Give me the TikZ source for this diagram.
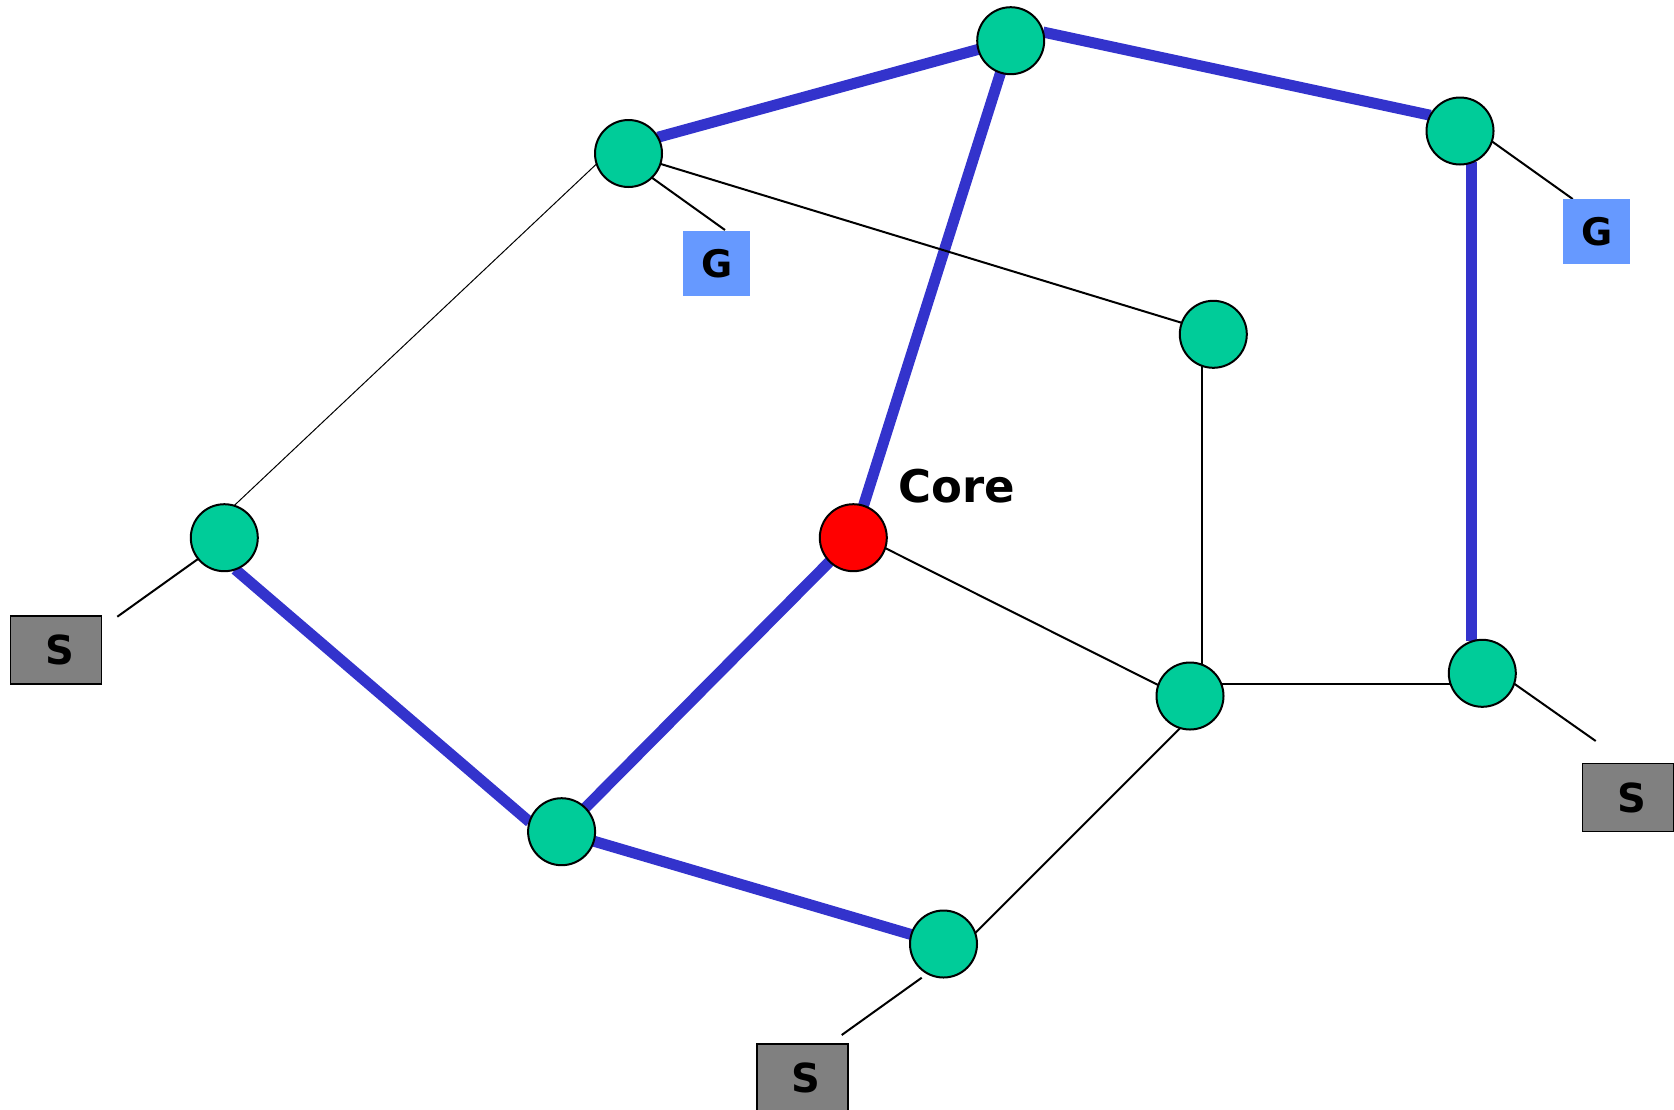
\documentclass[tikz,border=0pt]{standalone}
\usepackage{fontspec}
\setmainfont{DejaVu Sans}
\usetikzlibrary{backgrounds}
\definecolor{nodegreen}{RGB}{0,204,153}
\definecolor{linkblue}{RGB}{51,51,204}
\definecolor{gblue}{RGB}{102,153,255}
\definecolor{sgray}{RGB}{128,128,128}
\begin{document}
\begin{tikzpicture}[x=0.5pt,y=-0.5pt,
  router/.style={circle,draw=black,line width=1pt,fill=nodegreen,minimum size=33.5pt,inner sep=0pt,outer sep=0pt},
  corenode/.style={router,fill=red},
  gbox/.style={rectangle,fill=gblue,minimum width=33.3pt,minimum height=32.3pt,inner sep=0pt,outer sep=0pt,font=\fontsize{19}{19}\selectfont\bfseries},
  sbox/.style={rectangle,fill=sgray,draw=black,line width=0.75pt,minimum width=45.5pt,minimum height=34pt,inner sep=0pt,font=\fontsize{20}{20}\selectfont\bfseries},
  bluelink/.style={line width=5.5pt,draw=linkblue},
  thinlink/.style={line width=1pt,draw=black},
  hairlink/.style={line width=0.5pt,draw=black}]
\useasboundingbox (0,0) rectangle (1674,1109);
% routers
\node[router] (A) at (628.5,153.5) {};
\node[router] (T) at (1010.7,40.7) {};
\node[router] (TR) at (1460,131) {};
\node[router] (RM) at (1213.3,334.3) {};
\node[router] (L) at (224.3,537.7) {};
\node[corenode] (C) at (853.3,537.7) {};
\node[router] (MR) at (1190,696) {};
\node[router] (RL) at (1482.3,673.3) {};
\node[router] (BL) at (561.6,831.7) {};
\node[router] (B) at (943.5,944) {};
% boxes
\node[gbox] (G1) at (716.7,263.3) {G};
\node[gbox] (G2) at (1596.7,231.3) {G};
\node[sbox] (S1) at (56.2,650.2) {\hspace*{3.7pt}S};
\node[sbox] (S2) at (1628.2,797.5) {\hspace*{3.7pt}S};
\node[sbox] (S3) at (802.3,1078.2) {\hspace*{3.7pt}S};
\node[font=\fontsize{22.5}{22.5}\selectfont\bfseries] (corelabel) at (957,486) {Core};
% free ends
\coordinate (gA) at (725,230);
\coordinate (gTR) at (1572.7,199);
\coordinate (sL) at (117.3,616.7);
\coordinate (sRL) at (1595.7,741);
\coordinate (sB1) at (921.7,977.7);
\coordinate (sB2) at (841.7,1035);
\begin{scope}[on background layer]
\draw[bluelink] (A.29) -- (T.195);
\draw[bluelink] (T.15) -- (TR.152);
\draw[bluelink] (TR.290) -- (TR.290 |- RL.108);
\draw[bluelink] (T) -- (C);
\draw[bluelink] (C) -- (BL);
\draw[bluelink] (L.289) -- (BL.163);
\draw[bluelink] (BL) -- (B);
\draw[hairlink] (L.73) -- (A.198);
\draw[thinlink] (A.342) -- (RM.160);
\draw[thinlink] (RM.250) -- (RM.250 |- MR.70);
\draw[thinlink] (C.342) -- (MR.161);
\draw[thinlink] (MR.21) -- (MR.21 -| RL.199);
\draw[thinlink] (MR.253) -- (B.19);
\draw[thinlink] (A.314) -- (gA);
\draw[thinlink] (TR.342) -- (gTR);
\draw[thinlink] (L.219) -- (sL);
\draw[thinlink] (RL.342) -- (sRL);
\draw[thinlink] (sB1) -- (sB2);
\end{scope}
\end{tikzpicture}
\end{document}
